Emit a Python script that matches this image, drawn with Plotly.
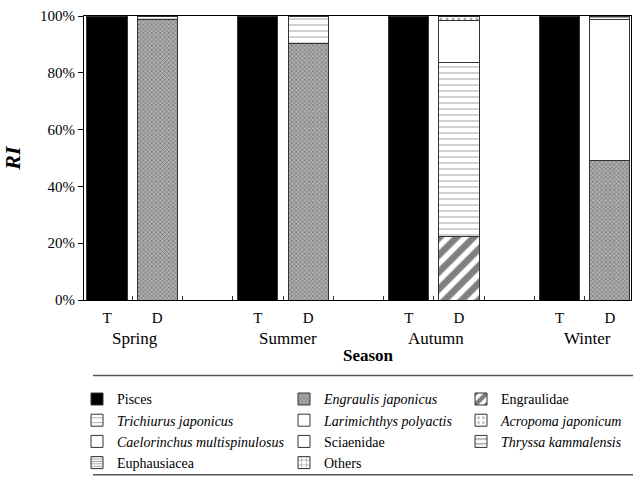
import plotly.graph_objects as go

# Stacked bars: T = stomach content by taxon group, D = diet composition by species
bar_pos = [0, 1, 3, 4, 6, 7, 9, 10]
bar_labels = ["T", "D", "T", "D", "T", "D", "T", "D"]
seasons = ["Spring", "Summer", "Autumn", "Winter"]
season_pos = [0.55, 3.6, 6.55, 9.55]
y_ticks = [0, 20, 40, 60, 80, 100]
y_tick_text = ["0%", "20%", "40%", "60%", "80%", "100%"]

pisces = [100, 0, 100, 0, 100, 0, 100, 0]
engraulis = [0, 98.6, 0, 90.2, 0, 0, 0, 49.0]
engraulidae = [0, 0, 0, 0, 0, 22.4, 0, 0]
trichiurus = [0, 1.4, 0, 9.8, 0, 61.2, 0, 0]
larimichthys = [0, 0, 0, 0, 0, 14.7, 0, 49.6]
acropoma = [0, 0, 0, 0, 0, 1.7, 0, 0]
caelorinchus = [0, 0, 0, 0, 0, 0, 0, 0]
sciaenidae = [0, 0, 0, 0, 0, 0, 0, 0]
thryssa = [0, 0, 0, 0, 0, 0, 0, 0]
euphausiacea = [0, 0, 0, 0, 0, 0, 0, 1.4]
others = [0, 0, 0, 0, 0, 0, 0, 0]

FONT = "Liberation Serif, Times New Roman, Times, serif"
W, H = 633, 480
L, R, T, B = 84, 2, 16, 178
PW, PH = W - L - R, H - T - B


def px_x(p):
    return (p - L) / PW


def px_y(p):
    return (H - B - p) / PH


series = [
    # name, values, fill, pattern, legend column
    ("Pisces", pisces, "black", dict(shape=""), "legend"),
    ("<i>Engraulis japonicus</i>", engraulis, "#a0a0a0",
     dict(shape="x", fgcolor="#333", bgcolor="#b0b0b0", size=3, solidity=0.4), "legend2"),
    ("Engraulidae", engraulidae, "white",
     dict(shape="/", fgcolor="black", bgcolor="white", size=12, solidity=0.55), "legend3"),
    ("<i>Trichiurus japonicus</i>", trichiurus, "white",
     dict(shape="-", fgcolor="#555", bgcolor="white", size=6, solidity=0.18), "legend"),
    ("<i>Larimichthys polyactis</i>", larimichthys, "white", dict(shape=""), "legend2"),
    ("<i>Acropoma japonicum</i>", acropoma, "white",
     dict(shape=".", fgcolor="#555", bgcolor="white", size=6, solidity=0.2), "legend3"),
    ("<i>Caelorinchus multispinulosus</i>", caelorinchus, "white", dict(shape=""), "legend"),
    ("Sciaenidae", sciaenidae, "white", dict(shape=""), "legend2"),
    ("<i>Thryssa kammalensis</i>", thryssa, "white",
     dict(shape="-", fgcolor="#333", bgcolor="white", size=6, solidity=0.3), "legend3"),
    ("Euphausiacea", euphausiacea, "#dddddd",
     dict(shape="-", fgcolor="#444", bgcolor="white", size=3, solidity=0.4), "legend"),
    ("Others", others, "white",
     dict(shape="+", fgcolor="#333", bgcolor="white", size=6, solidity=0.25), "legend2"),
]

fig = go.Figure()
for i, (name, vals, color, pattern, leg) in enumerate(series):
    fig.add_trace(go.Bar(
        x=bar_pos,
        y=[v if v else None for v in vals],
        name=name,
        width=0.8,
        marker=dict(color=color, pattern=pattern,
                    line=dict(color="#333", width=1)),
        legend=leg,
        legendgroup=f"g{i}",
        hoverinfo="skip",
    ))

legend_common = dict(
    orientation="v", xanchor="left", yanchor="top",
    font=dict(family=FONT, size=14, color="black"),
    bgcolor="rgba(0,0,0,0)", borderwidth=0,
    itemwidth=30, tracegroupgap=4, traceorder="normal",
)
legend_top = px_y(386)

annotations = [
    dict(x=sx, y=px_y(341), xref="x", yref="paper", text=s, showarrow=False,
         xanchor="center", yanchor="middle",
         font=dict(family=FONT, size=17, color="black"))
    for sx, s in zip(season_pos, seasons)
]
annotations.append(dict(x=5.2, y=px_y(358), xref="x", yref="paper",
                        text="<b>Season</b>", showarrow=False,
                        xanchor="center", yanchor="middle",
                        font=dict(family=FONT, size=17, color="black")))

shapes = [
    dict(type="line", xref="paper", yref="paper", x0=px_x(93), x1=px_x(634),
         y0=px_y(y), y1=px_y(y), line=dict(color="#555", width=1.5))
    for y in (378, 478)
]

fig.update_layout(
    width=W, height=H,
    margin=dict(l=L, r=R, t=T, b=B, pad=0),
    barmode="stack",
    paper_bgcolor="white", plot_bgcolor="white",
    font=dict(family=FONT, size=14, color="black"),
    showlegend=True,
    legend=dict(x=px_x(77), y=legend_top, **legend_common),
    legend2=dict(x=px_x(284), y=legend_top, **legend_common),
    legend3=dict(x=px_x(461), y=legend_top, **legend_common),
    annotations=annotations,
    shapes=shapes,
    xaxis=dict(
        range=[-0.457, 10.42],
        tickmode="array", tickvals=bar_pos, ticktext=bar_labels, ticks="",
        tickfont=dict(family=FONT, size=15, color="black"),
        showline=True, linecolor="black", linewidth=1, mirror=True,
        showgrid=False, zeroline=False, ticklabelstandoff=4,
        minor=dict(tickvals=[p + 0.5 for p in range(-1, 11)], ticks="inside",
                   ticklen=4, tickcolor="#333", showgrid=False),
    ),
    yaxis=dict(
        range=[0, 100], tickmode="array", tickvals=y_ticks, ticktext=y_tick_text,
        ticks="outside", ticklen=5, tickcolor="black",
        tickfont=dict(family=FONT, size=15, color="black"),
        showline=True, linecolor="black", linewidth=1, mirror=True,
        showgrid=False, zeroline=False,
        title=dict(text="<b><i>RI</i></b>", font=dict(family=FONT, size=22), standoff=14),
    ),
)

fig.write_html("out.html")
